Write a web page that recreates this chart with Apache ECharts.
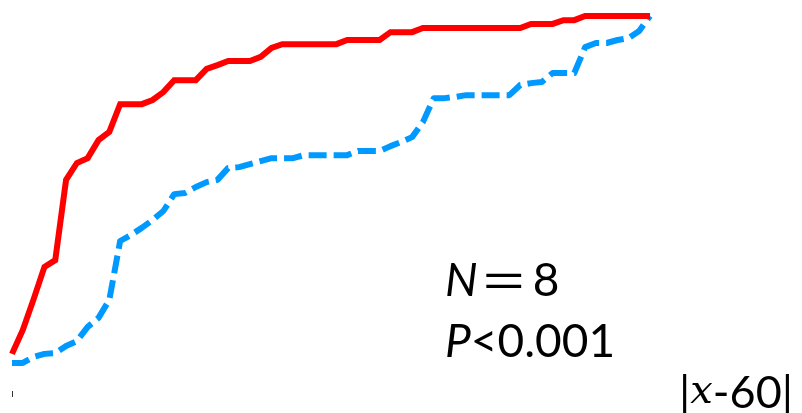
<!DOCTYPE html>
<html>
<head>
<meta charset="utf-8">
<script src="https://cdn.jsdelivr.net/npm/echarts@6/dist/echarts.min.js"></script>
<style>
html,body{margin:0;padding:0;background:#fff;}
#chart{width:802px;height:413px;}
</style>
</head>
<body>
<div id="chart"></div>
<script>
// x categories (index of points)
var categories = [];
for (var k = 1; k <= 60; k++) categories.push(String(k));

// red solid series (percent)
var redValues = [
  9.9, 16.3, 24.5, 33.1, 34.9, 56.3, 60.8, 62.1, 66.9, 69.1,
  76.5, 76.5, 76.5, 77.6, 79.7, 82.9, 82.9, 82.9, 85.9, 86.9,
  88.0, 88.0, 88.0, 89.1, 91.5, 92.5, 92.5, 92.5, 92.5, 92.5,
  92.5, 93.6, 93.6, 93.6, 93.6, 95.7, 95.7, 95.7, 96.8, 96.8,
  96.8, 96.8, 96.8, 96.8, 96.8, 96.8, 96.8, 96.8, 97.9, 97.9,
  97.9, 98.9, 98.9, 100, 100, 100, 100, 100, 100, 100
];

// blue dashed series (percent)
var blueValues = [
  7.5, 7.5, 9.1, 9.9, 10.1, 12.0, 13.3, 17.1, 19.5, 24.3,
  40.0, 41.6, 43.5, 45.6, 48.0, 52.5, 52.8, 54.4, 55.7, 56.3,
  59.5, 59.7, 60.5, 61.3, 62.1, 62.1, 62.1, 62.9, 62.9, 62.9,
  62.9, 62.9, 64.0, 64.0, 64.0, 65.3, 66.4, 67.7, 71.7, 78.1,
  78.1, 78.4, 78.9, 78.9, 78.9, 78.9, 78.9, 81.6, 82.1, 82.4,
  84.8, 84.8, 84.8, 91.7, 92.8, 92.8, 93.6, 94.1, 96.0, 100
];

var chart = echarts.init(document.getElementById('chart'), null, {renderer: 'canvas'});
chart.setOption({
  animation: false,
  backgroundColor: '#ffffff',
  grid: {left: 12, right: 152, top: 16, bottom: 22},
  xAxis: {
    type: 'category',
    data: categories,
    boundaryGap: false,
    axisLine: {show: false},
    axisLabel: {show: false},
    axisTick: {
      show: true,
      length: 6,
      interval: function (index) { return index === 0; },
      lineStyle: {color: '#333333', width: 1}
    },
    splitLine: {show: false}
  },
  yAxis: {
    type: 'value',
    min: 0,
    max: 100,
    show: false,
    splitLine: {show: false}
  },
  series: [
    {
      type: 'line',
      data: blueValues,
      showSymbol: false,
      z: 2,
      lineStyle: {color: '#0099ff', width: 6, type: [18, 7], cap: 'butt', join: 'round'}
    },
    {
      type: 'line',
      data: redValues,
      showSymbol: false,
      z: 3,
      lineStyle: {color: '#ff0000', width: 6, type: 'solid', join: 'miter'}
    }
  ],
  graphic: [
    {
      type: 'text',
      x: 445, y: 281,
      style: {
        text: '{i|N}{e|＝}{n|8}',
        verticalAlign: 'middle',
        align: 'left',
        rich: {
          i: {fontFamily: 'Lato', fontStyle: 'italic', fontSize: 46, fill: '#000'},
          e: {fontFamily: '"Noto Sans CJK SC"', fontSize: 48, fill: '#000', padding: [0, 2, 0, 2]},
          n: {fontFamily: 'Lato', fontSize: 46, fill: '#000', padding: [0, 0, 0, 3]}
        }
      }
    },
    {
      type: 'text',
      x: 445, y: 342,
      style: {
        text: '{i|P}{n|<0.001}',
        verticalAlign: 'middle',
        align: 'left',
        rich: {
          i: {fontFamily: 'Lato', fontStyle: 'italic', fontSize: 46, fill: '#000'},
          n: {fontFamily: 'Lato', fontSize: 46, fill: '#000'}
        }
      }
    },
    {
      type: 'text',
      x: 793, y: 393,
      style: {
        text: '{n||}{m|x}{n|-60|}',
        verticalAlign: 'middle',
        align: 'right',
        rich: {
          m: {fontFamily: '"DejaVu Serif"', fontStyle: 'italic', fontSize: 40, fill: '#000'},
          n: {fontFamily: 'Lato', fontSize: 45, fill: '#000'}
        }
      }
    }
  ]
});
</script>
</body>
</html>
